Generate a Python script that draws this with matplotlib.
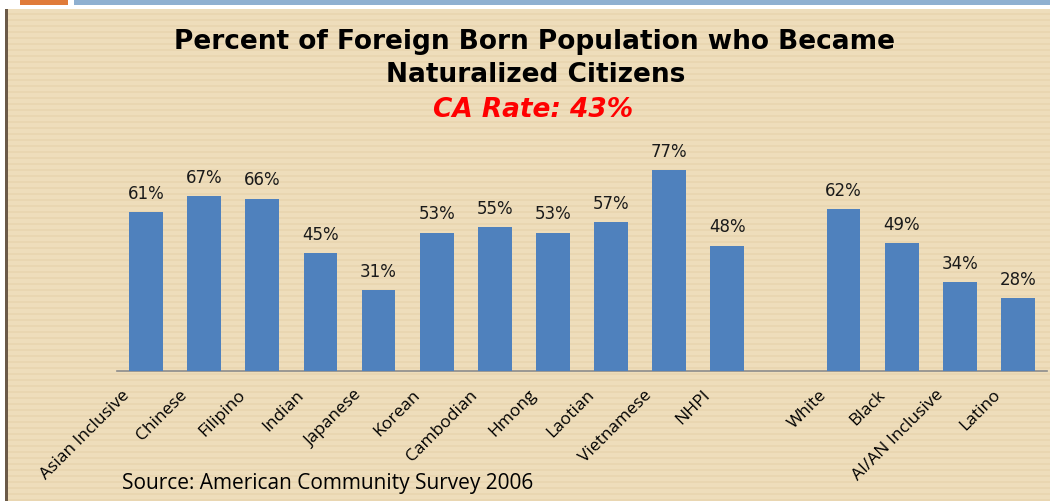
import matplotlib.pyplot as plt
import matplotlib.transforms as mtransforms
import numpy as np

# data
categories = ["Asian Inclusive", "Chinese", "Filipino", "Indian", "Japanese",
              "Korean", "Cambodian", "Hmong", "Laotian", "Vietnamese", "NHPI",
              "", "White", "Black", "AI/AN Inclusive", "Latino"]
values = [61, 67, 66, 45, 31, 53, 55, 53, 57, 77, 48,
          None, 62, 49, 34, 28]

fig = plt.figure(figsize=(10.5, 5.01), dpi=100)
fig.patch.set_facecolor("white")

# slide background with faint horizontal stripes
bg = fig.add_axes([0.005, 0, 0.995, 1 - 9 / 501])
bg.set_xlim(0, 1)
bg.set_ylim(0, 492)
bg.axis("off")
bg.add_patch(plt.Rectangle((0, 0), 1, 492, color="#EEDDBB", zorder=0))
for yy in np.arange(0, 492, 6):
    bg.add_patch(plt.Rectangle((0, yy), 1, 2.5, color="#E9D6B1", zorder=1, lw=0))

# top decorative bars and left rule
fig.add_artist(plt.Rectangle((20 / 1050, 1 - 5 / 501), 48 / 1050, 5 / 501,
                             transform=fig.transFigure, color="#E07B39", lw=0))
fig.add_artist(plt.Rectangle((74 / 1050, 1 - 5 / 501), 976 / 1050, 5 / 501,
                             transform=fig.transFigure, color="#8FB0D0", lw=0))
fig.add_artist(plt.Rectangle((5 / 1050, 0), 3 / 1050, 1 - 9 / 501,
                             transform=fig.transFigure, color="#6B5A48", lw=0))

ax = fig.add_axes([117 / 1050, 1 - 371 / 501, 930 / 1050, 222 / 501])
ax.set_facecolor("none")
x = np.arange(len(categories))
heights = [v if v is not None else 0 for v in values]
bars = ax.bar(x, heights, width=0.58, color="#4F81BD", zorder=3)
for xi, v in zip(x, values):
    if v is not None:
        ax.text(xi, v + 3.5, f"{v}%", ha="center", va="bottom", fontsize=12,
                color="#1a1a1a", family="DejaVu Sans")

ax.set_xlim(-0.5, len(categories) - 0.5)
ax.set_ylim(0, 85)
ax.set_yticks([])
ax.set_xticks(x)
ax.set_xticklabels(categories, rotation=45, ha="right", va="top",
                   rotation_mode="anchor", fontsize=12.5, family="Open Sans")
ax.tick_params(axis="x", length=0, pad=8)
offset = mtransforms.ScaledTranslation(-25 / 100, -5 / 100, fig.dpi_scale_trans)
for lbl in ax.get_xticklabels():
    lbl.set_transform(lbl.get_transform() + offset)
for s in ["top", "left", "right"]:
    ax.spines[s].set_visible(False)
ax.spines["bottom"].set_color("#8C8C8C")
ax.spines["bottom"].set_linewidth(1.2)

fig.text(535 / 1050, 1 - 42 / 501, "Percent of Foreign Born Population who Became",
         ha="center", va="center", fontsize=19, fontweight="bold", family="DejaVu Sans")
fig.text(536 / 1050, 1 - 75 / 501, "Naturalized Citizens",
         ha="center", va="center", fontsize=19, fontweight="bold", family="DejaVu Sans")
fig.text(533 / 1050, 1 - 110 / 501, "CA Rate: 43%", ha="center", va="center",
         fontsize=19, fontweight="bold", style="italic", color="#FF0000",
         family="DejaVu Sans")
fig.text(122 / 1050, 1 - 483 / 501, "Source: American Community Survey 2006",
         ha="left", va="center", fontsize=15, family="Open Sans")

fig.savefig("out.png", dpi=100)
